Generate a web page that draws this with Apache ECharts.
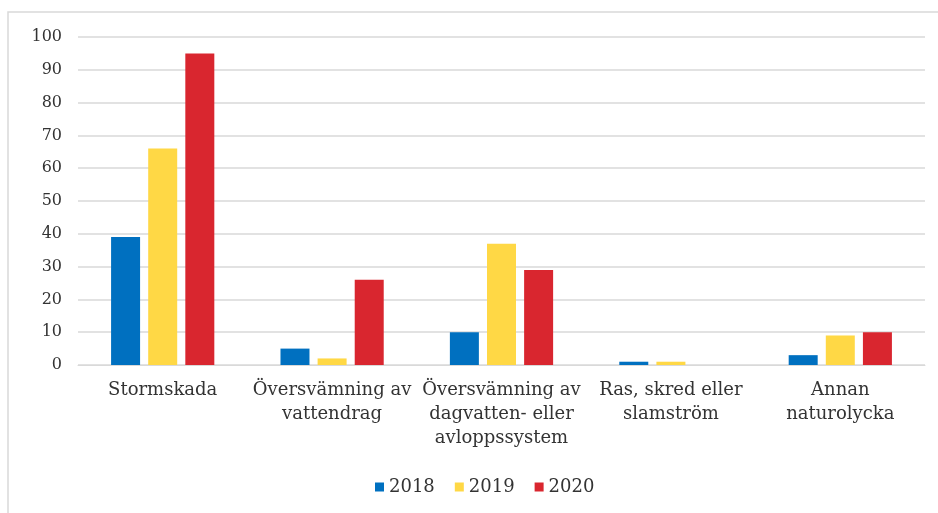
<!DOCTYPE html>
<html><head><meta charset="utf-8">
<script src="https://cdn.jsdelivr.net/npm/echarts@6/dist/echarts.min.js"></script>
<style>html,body{margin:0;padding:0;background:#fff}#c{width:938px;height:513px}</style>
</head><body><div id="c"></div>
<script>
const categories = ["Stormskada", "Översvämning av\nvattendrag", "Översvämning av\ndagvatten- eller\navloppssystem", "Ras, skred eller\nslamström", "Annan\nnaturolycka"];
const s2018 = [39, 5, 10, 1, 3];
const s2019 = [66, 2, 37, 1, 9];
const s2020 = [95, 26, 29, 0, 10];
const yTicks = [0, 100, 10];

const serif = "DejaVu Serif";
const chart = echarts.init(document.getElementById('c'));
chart.setOption({
  animation: false,
  graphic: [{type: 'rect', shape: {x: 8, y: 12, width: 940, height: 520}, style: {fill: 'none', stroke: '#d9d9d9', lineWidth: 1.5}}],
  grid: {left: 78, right: 13, top: 37, bottom: 148},
  legend: {
    bottom: 12, left: 370, itemWidth: 9, itemHeight: 9, itemGap: 20,
    icon: 'rect',
    textStyle: {fontFamily: serif, fontSize: 18, color: '#333'},
    data: ['2018', '2019', '2020']
  },
  xAxis: {
    type: 'category', data: categories,
    axisLine: {lineStyle: {color: '#d9d9d9'}}, axisTick: {show: false},
    axisLabel: {fontFamily: serif, fontSize: 18, color: '#333', interval: 0, margin: 13, lineHeight: 24}
  },
  yAxis: {
    type: 'value', min: yTicks[0], max: yTicks[1], interval: yTicks[2],
    axisLine: {show: false}, axisTick: {show: false},
    splitLine: {lineStyle: {color: '#d9d9d9', width: 1.5}},
    axisLabel: {fontFamily: serif, fontSize: 16, color: '#333', margin: 16}
  },
  series: [
    {name: '2018', type: 'bar', data: s2018, barWidth: 29, barGap: '28%', itemStyle: {color: '#0070c0'}},
    {name: '2019', type: 'bar', data: s2019, barWidth: 29, barGap: '28%', itemStyle: {color: '#ffd845'}},
    {name: '2020', type: 'bar', data: s2020, barWidth: 29, barGap: '28%', itemStyle: {color: '#d9262f'}}
  ]
});
</script></body></html>
